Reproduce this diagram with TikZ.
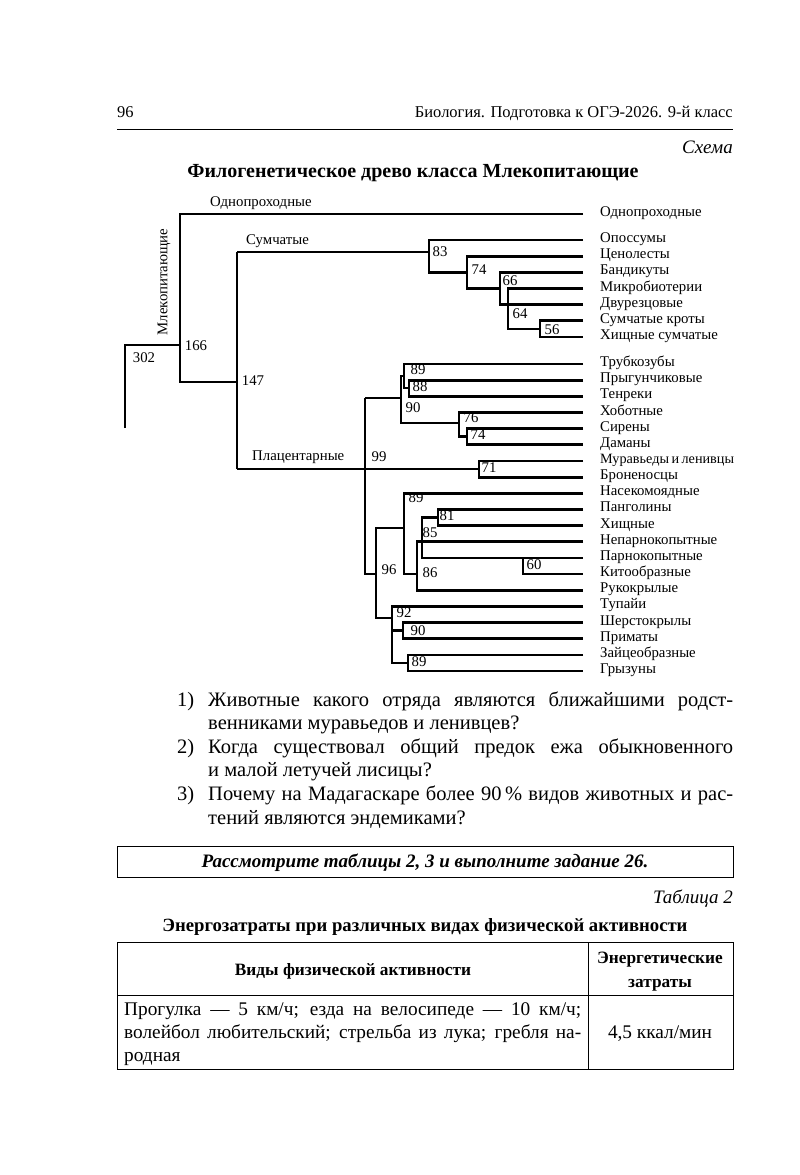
\documentclass[tikz,border=0pt]{standalone}
\usepackage{fontspec}
\setmainfont{Liberation Serif}
\begin{document}
\begin{tikzpicture}[x=1pt,y=-1pt,
  br/.style={line width=2.8pt, line join=miter},
  brt/.style={line width=1.7pt, line join=miter},
  leaf/.style={anchor=west, inner sep=0pt, text height=7.5pt, text depth=2.5pt, font=\fontsize{14.8}{17}\selectfont},
  num/.style={inner sep=0pt, font=\fontsize{14.8}{17}\selectfont},
  clade/.style={anchor=base west, inner sep=0pt, font=\fontsize{14.8}{17}\selectfont},
  qtxt/.style={anchor=base west, inner sep=0pt, font=\fontsize{20.5}{24}\selectfont},
  ttxt/.style={anchor=base west, inner sep=0pt, font=\fontsize{19.3}{22}\selectfont},
  frame/.style={line width=0.9pt}]
\useasboundingbox (0,0) rectangle (800,1175);
\fill[white] (0,0) rectangle (800,1175);
\newcommand\leaf[3]{\coordinate (#1e) at (583,#2); \node[leaf] (#1) at (600,#2) {#3};}

% header
\node[anchor=base west, inner sep=0pt, font=\fontsize{16.5}{20}\selectfont] (pg) at (117,117) {96};
\node[anchor=base east, inner sep=0pt, font=\fontsize{16.5}{20}\selectfont] (hd) at (733,117) {Биология. Подготовка к ОГЭ-2026. 9-й класс};
\coordinate (rl) at (117,129); \coordinate (rr) at (733,129);
\draw[line width=0.9pt] (rl) -- (rr);
\node[anchor=base east, inner sep=0pt, font=\fontsize{19}{22}\itshape] (sch) at (733,153) {Схема};
\node[anchor=base, inner sep=0pt, font=\fontsize{20}{24}\bfseries] (ttl) at (413,177) {Филогенетическое древо класса Млекопитающие};

% leaves
\leaf{a0}{214}{Однопроходные}
\leaf{m1}{240}{Опоссумы}
\leaf{m2}{256.2}{Ценолесты}
\leaf{m3}{272.3}{Бандикуты}
\leaf{m4}{288.5}{Микробиотерии}
\leaf{m5}{304.7}{Двурезцовые}
\leaf{m6}{320.8}{Сумчатые кроты}
\leaf{m7}{337}{Хищные сумчатые}
\leaf{p0}{364}{Трубкозубы}
\leaf{p1}{380.2}{Прыгунчиковые}
\leaf{p2}{396.3}{Тенреки}
\leaf{p3}{412.5}{Хоботные}
\leaf{p4}{428.6}{Сирены}
\leaf{p5}{444.8}{Даманы}
\leaf{p6}{461}{\fontsize{14.2}{17}\selectfont Муравьеды\hspace{2.5pt}и\hspace{2.5pt}ленивцы}
\leaf{p7}{477.1}{Броненосцы}
\leaf{p8}{493.3}{Насекомоядные}
\leaf{p9}{509.4}{Панголины}
\leaf{p10}{525.6}{Хищные}
\leaf{p11}{541.8}{Непарнокопытные}
\leaf{p12}{557.9}{Парнокопытные}
\leaf{p13}{574}{Китообразные}
\leaf{p14}{590.2}{Рукокрылые}
\leaf{p15}{606.4}{Тупайи}
\leaf{p16}{622.6}{Шерстокрылы}
\leaf{p17}{638.7}{Приматы}
\leaf{p18}{654.9}{Зайцеобразные}
\leaf{p19}{671}{Грызуны}

% root and main clades
\coordinate (rt) at (125,428);
\draw[br] (rt) -- (125,345) -- (180,345);
\draw[br] (a0e) -- (180,214) -- (180,382) -- (237,382);
\draw[br] (237,252) -- (237,469);
\draw[brt] (237,252) -- (429,252);
\draw[brt] (237,469) -- (479,469);

% marsupials
\draw[br] (m1e) -- (429,240) -- (429,272.3) -- (467,272.3);
\draw[br] (m2e) -- (467,256.2) -- (467,288.5) -- (500,288.5);
\draw[br] (m3e) -- (500,272.3) -- (500,304.7) -- (m5e);
\draw[br] (m4e) -- (508,288.5) -- (508,329) -- (540,329);
\draw[br] (m6e) -- (540,320.8) -- (540,337) -- (m7e);

% placentals
\draw[brt] (365,398) -- (365,574) -- (376,574);
\draw[br] (365,398) -- (401,398);
\draw[br] (p0e) -- (404,364) -- (404,388) -- (409,388);
\draw[br] (404,376) -- (401,376) -- (401,423) -- (459,423);
\draw[br] (p1e) -- (409,380.2) -- (409,396.3) -- (p2e);
\draw[br] (p3e) -- (459,412.5) -- (459,436.7) -- (467,436.7);
\draw[br] (p4e) -- (467,428.6) -- (467,444.8) -- (p5e);
\draw[br] (p6e) -- (479,461) -- (479,477.1) -- (p7e);
\draw[br] (404,528) -- (376,528) -- (376,618) -- (392,618);
\draw[br] (p8e) -- (404,493.3) -- (404,574) -- (417,574);
\draw[br] (p11e) -- (417,541.8) -- (417,590.2) -- (p14e);
\draw[br] (438,517.5) -- (422,517.5) -- (422,557.9) -- (p12e);
\draw[br] (p9e) -- (438,509.4) -- (438,525.6) -- (p10e);
\draw[brt] (523,557.9) -- (523,574) -- (p13e);
\draw[br] (p15e) -- (392,606.4) -- (392,663) -- (408,663);
\draw[br] (392,630.6) -- (403,630.6);
\draw[br] (p16e) -- (403,622.6) -- (403,638.7) -- (p17e);
\draw[br] (p18e) -- (408,654.9) -- (408,671) -- (p19e);

% numbers
\node[num] (n302) at (144,358) {302};
\node[num] (n166) at (196,346) {166};
\node[num] (n147) at (253,381) {147};
\node[num] (n83) at (440,252) {83};
\node[num] (n74) at (479,270) {74};
\node[num] (n66) at (510,281) {66};
\node[num] (n64) at (520,314) {64};
\node[num] (n56) at (552,330) {56};
\node[num] (n89a) at (418,370) {89};
\node[num] (n88) at (420,387) {88};
\node[num] (n90a) at (413,408) {90};
\node[num] (n76) at (471,418) {76};
\node[num] (n74b) at (478,435) {74};
\node[num] (n99) at (379,457) {99};
\node[num] (n71) at (489,468) {71};
\node[num] (n89b) at (416,498) {89};
\node[num] (n81) at (447,516) {81};
\node[num] (n85) at (430,533) {85};
\node[num] (n86) at (430,573) {86};
\node[num] (n60) at (534,565) {60};
\node[num] (n96) at (389,570) {96};
\node[num] (n92) at (404,613) {92};
\node[num] (n90b) at (418,631) {90};
\node[num] (n89c) at (419,662) {89};

% clade labels
\node[clade] (c1) at (210,206) {Однопроходные};
\node[clade] (c2) at (246,244) {Сумчатые};
\node[clade] (c3) at (252,460) {Плацентарные};
\node[inner sep=0pt, rotate=90, font=\fontsize{14.8}{17}\selectfont] (c0) at (164,282) {Млекопитающие};

% questions
\node[qtxt] (q1n) at (177,706) {1)};
\node[qtxt] (q1a) at (208,706) {\makebox[525pt][s]{Животные какого отряда являются ближайшими родст-}};
\node[qtxt] (q1b) at (208,729) {венниками муравьедов и ленивцев?};
\node[qtxt] (q2n) at (177,753) {2)};
\node[qtxt] (q2a) at (208,753) {\makebox[525pt][s]{Когда существовал общий предок ежа обыкновенного}};
\node[qtxt] (q2b) at (208,776.5) {и малой летучей лисицы?};
\node[qtxt] (q3n) at (177,800.5) {3)};
\node[qtxt] (q3a) at (208,800.5) {\makebox[525pt][s]{Почему на Мадагаскаре более 90\,\% видов животных и рас-}};
\node[qtxt] (q3b) at (208,824) {тений являются эндемиками?};

% box
\draw[frame] (117,846) rectangle (733,877);
\node[anchor=base, inner sep=0pt, font=\fontsize{19}{23}\bfseries\itshape] (bx) at (425,867) {Рассмотрите таблицы 2, 3 и выполните задание 26.};

% table
\node[anchor=base east, inner sep=0pt, font=\fontsize{19}{22}\itshape] (tb) at (733,903) {Таблица 2};
\node[anchor=base, inner sep=0pt, font=\fontsize{18.7}{22}\bfseries] (tt) at (425,931) {Энергозатраты при различных видах физической активности};
\draw[frame] (117,942) rectangle (733,1069);
\draw[frame] (117,995) -- (733,995);
\draw[frame] (588,942) -- (588,1069);
\node[anchor=base, inner sep=0pt, font=\fontsize{17.3}{20}\bfseries] (h1) at (353,975) {Виды физической активности};
\node[anchor=base, inner sep=0pt, font=\fontsize{17.3}{20}\bfseries] (h2a) at (660,963) {Энергетические};
\node[anchor=base, inner sep=0pt, font=\fontsize{17.3}{20}\bfseries] (h2b) at (660,987) {затраты};
\node[ttxt] (r1) at (124,1015) {\makebox[457pt][s]{Прогулка — 5 км/ч; езда на велосипеде — 10 км/ч;}};
\node[ttxt] (r2) at (124,1038) {\makebox[457pt][s]{волейбол любительский; стрельба из лука; гребля на-}};
\node[ttxt] (r3) at (124,1061) {родная};
\node[anchor=base, inner sep=0pt, font=\fontsize{19.3}{22}\selectfont] (v1) at (660,1038) {4,5 ккал/мин};
\end{tikzpicture}
\end{document}
